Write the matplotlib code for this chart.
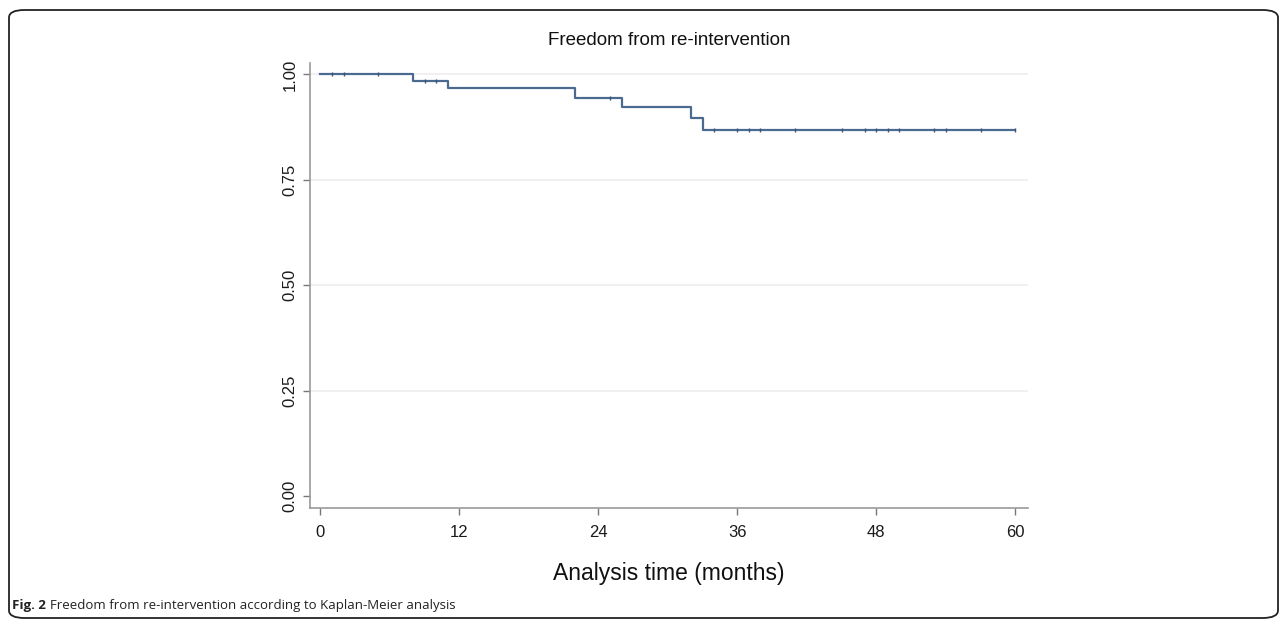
import numpy as np
import matplotlib
matplotlib.use('Agg')
import matplotlib.pyplot as plt
from matplotlib.patches import FancyBboxPatch

# Kaplan-Meier steps (months, survival)
event_times = [0, 8, 11, 22, 26, 32, 33, 60]
survival = [1.0, 0.984, 0.968, 0.945, 0.922, 0.897, 0.869, 0.869]
censor_times = [1, 2, 5, 9, 10, 25, 34, 36, 37, 38, 41, 45, 47, 48, 49, 50, 53, 54, 57, 60]

x_ticks = [0, 12, 24, 36, 48, 60]
y_ticks = [0.00, 0.25, 0.50, 0.75, 1.00]
y_labels = ['0.00', '0.25', '0.50', '0.75', '1.00']

title = 'Freedom from re-intervention'
xlabel = 'Analysis time (months)'
caption_bold = 'Fig. 2'
caption_text = 'Freedom from re-intervention according to Kaplan-Meier analysis'

plt.rcParams['font.family'] = ['Liberation Sans', 'DejaVu Sans']

W, H = 1287, 628
fig = plt.figure(figsize=(W / 100, H / 100), dpi=100)

# rounded frame
box = FancyBboxPatch((9 / W, 1 - 618 / H), (1278 - 9) / W, (618 - 10) / H,
                     boxstyle='round,pad=0,rounding_size=0.012',
                     transform=fig.transFigure, fill=False,
                     edgecolor='#222222', linewidth=1.3)
fig.patches.append(box)

ax = fig.add_axes([310 / W, 1 - 508 / H, (1028 - 310) / W, (508 - 63) / H])

line_col = '#4a6a90'
ax.step(event_times, survival, where='post', color=line_col, linewidth=1.6, zorder=3)

# censoring marks on the curve
idx = np.searchsorted(event_times, censor_times, side='right') - 1
cens_surv = [survival[i] for i in idx]
ax.plot(censor_times, cens_surv, linestyle='none', marker='|', markersize=3.5,
        markeredgewidth=1.0, color='#3a5578', zorder=4)

ax.set_xlim(-0.9, 61.1)
ax.set_ylim(-0.028, 1.027)
ax.set_xticks(x_ticks)
ax.set_yticks(y_ticks)
ax.set_yticklabels(y_labels, rotation=90, va='center')
ax.tick_params(axis='both', colors='#777777', labelcolor='#1a1a1a',
               labelsize=12, length=5, width=1)
ax.tick_params(axis='x', pad=7)
ax.tick_params(axis='y', pad=4)

for y in y_ticks[1:]:
    ax.axhline(y, color='#ededed', linewidth=1.2, zorder=1)

for s in ['top', 'right']:
    ax.spines[s].set_visible(False)
for s in ['left', 'bottom']:
    ax.spines[s].set_color('#999999')
    ax.spines[s].set_linewidth(1.2)

ax.set_xlabel(xlabel, fontsize=16.5, color='#111111', labelpad=16)
ax.set_title(title, fontsize=13.5, color='#111111', pad=13)

cap_y = 1 - 605 / H
t1 = fig.text(12 / W, cap_y, caption_bold, fontsize=9.5, fontweight='bold',
              family=['Open Sans', 'DejaVu Sans'], va='center', ha='left', color='#222222')
fig.canvas.draw()
bb = t1.get_window_extent()
fig.text((bb.x1 + 4) / W, cap_y, caption_text, fontsize=9.5,
         family=['Open Sans', 'DejaVu Sans'], va='center', ha='left', color='#222222')

fig.savefig('out.png', dpi=100)
